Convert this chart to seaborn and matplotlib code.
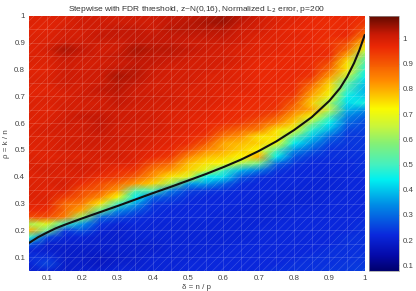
import numpy as np
import matplotlib
matplotlib.use("Agg")
import matplotlib.pyplot as plt
from matplotlib.colors import LinearSegmentedColormap
from matplotlib.patches import Rectangle
import seaborn as sns

sns.set_theme(style="white")
plt.rcParams['font.family'] = ['Liberation Sans', 'DejaVu Sans']

delta = [.05,.10,.15,.20,.25,.30,.35,.40,.45,.50,.55,.60,.65,.70,.75,.80,.85,.90,.95,1.0]
rho = [.05,.075,.1,.125,.15,.175,.2,.225,.25,.275,.3,.325,.35,.375,.4,.425,.45,.475,.5,.525,
       .55,.575,.6,.625,.65,.675,.7,.725,.75,.775,.8,.825,.85,.875,.9,.925,.95,.975,1.0]

d05 = [20,21,23,21,28,48,80,62,92,97, 98,99,99,99,98,99,99,99,98,99, 99,99,98,99,99,99,98,98,99,99, 98,99,99,98,99,99,98,99,98]
d10 = [21,26,23,20,20,26,55,68,92,96, 98,99,98,99,99,100,99,98,99,99, 99,100,99,99,98,99,99,98,99,99, 98,99,99,100,99,99,98,98,99]
d15 = [19,19,19,19,20,21,24,50,85,88, 88,94,99,100,99,99,100,99,100,100, 100,100,101,100,100,100,99,100,101,101, 101,101,102,104,101,100,100,99,99]
d20 = [20,19,19,19,20,21,27,35,60,80, 85,90,92,96,99,100,100,99,100,101, 100,101,100,102,100,100,101,100,100,101, 100,100,101,102,101,100,100,101,100]
d25 = [20,18,18,19,20,20,21,24,30,55, 74,84,90,92,96,99,99,100,100,101, 101,102,102,102,101,100,101,102,101,101, 101,100,101,100,101,102,101,101,100]
d30 = [21,20,19,20,20,20,20,21,26,34, 50,72,82,88,94,96,99,100,100,100, 101,100,101,101,101,102,102,103,103,104, 102,101,102,101,101,102,102,101,100]
d35 = [21,20,20,20,20,21,21,22,23,28, 36,44,54,82,90,95,98,99,99,100, 100,100,100,101,100,101,101,101,102,103, 103,102,103,104,102,102,102,101,101]
d40 = [21,21,21,20,20,21,21,21,22,23, 24,30,52,76,82,86,92,97,98,99, 99,100,100,100,100,100,101,100,100,101, 101,102,102,103,102,102,101,101,101]
d45 = [21,21,21,21,21,21,21,21,22,22, 23,26,32,62,74,82,88,94,97,98, 98,99,99,99,99,100,100,100,100,100, 100,101,102,103,102,102,103,102,102]
d50 = [22,22,21,21,21,21,21,21,22,22, 22,23,25,36,68,76,78,84,92,96, 97,98,98,98,99,99,99,99,100,100, 100,100,101,102,101,102,103,103,102]
d55 = [22,22,22,21,21,21,21,21,22,22, 22,22,24,36,44,68,74,78,84,90, 95,97,97,98,98,99,99,99,99,99, 100,100,100,101,101,102,103,104,103]
d60 = [22,22,22,22,21,21,21,21,21,22, 22,22,23,30,42,50,72,76,80,80, 86,92,96,97,97,98,98,98,99,99, 99,100,100,100,101,102,103,105,105]
d65 = [22,22,22,22,22,21,21,21,21,21, 22,22,22,23,28,38,62,72,76,78, 82,88,94,96,96,97,97,98,98,98, 98,99,99,99,100,100,101,102,103]
d70 = [22,22,22,22,22,22,22,21,21,21, 21,22,22,22,23,32,56,80,72,76, 74,85,90,94,96,96,97,97,97,97, 97,97,98,98,98,99,100,100,101]
d75 = [23,22,22,22,22,22,22,22,21,21, 21,21,22,22,22,24,30,44,52,70, 74,74,84,90,95,96,96,96,97,97, 97,97,97,98,98,98,98,99,98]
d80 = [23,23,22,22,22,22,22,22,22,22, 21,21,21,22,22,22,24,28,34,44, 54,68,76,80,86,90,94,96,96,97, 97,97,97,97,97,98,97,98,98]
d85 = [23,23,23,22,22,22,22,22,22,22, 21,21,21,21,22,22,22,24,28,34, 40,48,58,70,80,76,80,84,90,95, 96,96,97,97,97,97,97,97,97]
d90 = [24,23,23,23,22,22,22,22,22,22, 22,22,21,21,21,22,22,23,23,26, 30,38,44,52,64,62,70,74,76,82, 88,92,96,96,95,96,96,96,97]
d95 = [24,24,23,23,23,23,22,22,22,22, 22,22,22,22,22,22,22,23,23,24, 24,26,30,33,38,42,45,50,54,64, 74,74,80,88,92,97,97,97,97]
d100 = [25,24,24,23,23,23,23,23,22,22, 22,22,22,22,22,23,23,23,24,24, 24,25,26,29,34,46,40,38,40,44, 48,52,58,68,78,86,92,95,96]

curve_delta = [.05,.075,.10,.125,.15,.20,.25,.30,.35,.40,.45,.50,.55,.60,.65,.70,.75,.80,.85,.90,.93,.95,.97,.985,1.0]
curve_rho = [.154,.175,.192,.208,.221,.245,.268,.291,.315,.339,.362,.386,.41,.436,.464,.496,.532,.574,.622,.683,.73,.772,.824,.872,.928]

ticks = [.1,.2,.3,.4,.5,.6,.7,.8,.9,1]
tick_labels = ['0.1','0.2','0.3','0.4','0.5','0.6','0.7','0.8','0.9','1']
title = 'Stepwise with FDR threshold, z~N(0,16), Normalized L$_2$ error, p=200'

cmap_values = [.079,.14,.22,.34,.44,.50,.58,.65,.72,.83,.97,1.02,1.09]
cmap_colors = ['#00006e','#050aaa','#0a28dc','#008ce6','#00f0f0','#46f0be','#82f078',
               '#c8f53c','#fafa00','#ff8c00','#eb2805','#c81905','#640a00']

columns = [d05,d10,d15,d20,d25,d30,d35,d40,d45,d50,d55,d60,d65,d70,d75,d80,d85,d90,d95,d100]
C = np.column_stack(columns) / 100.0

vmin, vmax = cmap_values[0], cmap_values[-1]
cmap = LinearSegmentedColormap.from_list(
    'muted_jet', [((v - vmin) / (vmax - vmin), c) for v, c in zip(cmap_values, cmap_colors)], N=256)

W, H = 416, 291
fig = plt.figure(figsize=(W/100, H/100), dpi=100)
ax = fig.add_axes([29.3/W, 1-270.7/H, 335.4/W, 255/H])
cax = fig.add_axes([369.3/W, 1-270.7/H, 30/W, 255/H])

sns.heatmap(C, cmap=cmap, vmin=vmin, vmax=vmax, ax=ax, cbar_ax=cax,
            shading='gouraud', xticklabels=False, yticklabels=False)

ix = lambda v: (np.asarray(v) - delta[0]) / (delta[1] - delta[0])
iy = lambda v: (np.asarray(v) - rho[0]) / (rho[1] - rho[0])
ax.set_xlim(0, len(delta) - 1)
ax.set_ylim(0, len(rho) - 1)

tc = '#444444'
ax.set_xticks(ix(ticks)); ax.set_xticklabels(tick_labels, fontsize=5.7, color=tc)
ax.set_yticks(iy(ticks)); ax.set_yticklabels(tick_labels, fontsize=5.7, color=tc)
ax.tick_params(length=0, pad=3)
ax.set_xlabel('\u03b4 = n / p', fontsize=5.7, color=tc, labelpad=1.5)
ax.set_ylabel('\u03c1 = k / n', fontsize=5.7, color=tc, labelpad=3)
ax.set_title(title, fontsize=6.05, color='#333333', pad=3.5)

ax.vlines(ix(delta[1:-1]), 0, len(rho) - 1, color='white', lw=0.5, alpha=0.2, zorder=3)
ax.hlines(iy(rho[2:-1:2]), 0, len(delta) - 1, color='white', lw=0.5, alpha=0.2, zorder=3)
plt.rcParams['hatch.linewidth'] = 0.35
ax.add_patch(Rectangle((0, 0), len(delta) - 1, len(rho) - 1, fill=False,
                       hatch='////', edgecolor=(1, 1, 1, 0.25), lw=0, zorder=3))

sns.lineplot(x=ix(curve_delta), y=iy(curve_rho), ax=ax, color='#111111', lw=1.5,
             estimator=None, sort=False, zorder=4)

cb = ax.collections[0].colorbar
cb.set_ticks(ticks)
cb.set_ticklabels(tick_labels, fontsize=5.7, color=tc)
cax.tick_params(length=1.5, width=0.4, color='#777777', direction='in', pad=2.5,
                right=True, labelright=True)
cb.outline.set_visible(True)
cb.outline.set_edgecolor('#999999')
cb.outline.set_linewidth(0.5)

fig.savefig('out.png', dpi=100)
